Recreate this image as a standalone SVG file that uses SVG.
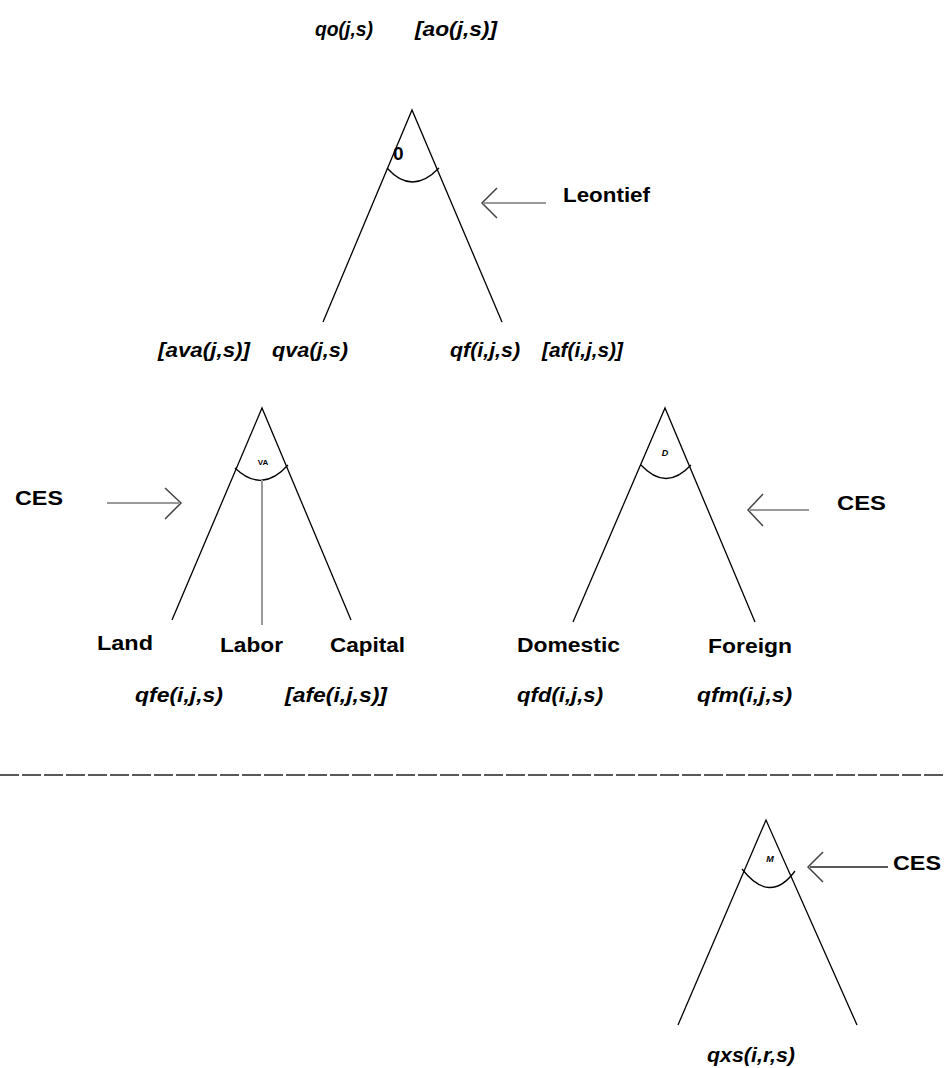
<svg xmlns="http://www.w3.org/2000/svg" width="946" height="1068" viewBox="0 0 946 1068">
<style>
.t{font-family:"Liberation Sans",Arial,sans-serif;font-weight:bold;font-size:20px;fill:#000}
.i{font-style:italic}
.leg{stroke:#000;stroke-width:1.3;fill:none}
.shaft{stroke:#999;stroke-width:2.2;fill:none}
.head{stroke:#444;stroke-width:1.5;fill:none}
.small{font-family:"Liberation Sans",Arial,sans-serif;font-weight:bold;fill:#000}
</style>
<rect width="946" height="1068" fill="#fff"/>
<g id="labels-top">
<text class="t i" x="315" y="36" textLength="58" lengthAdjust="spacingAndGlyphs">qo(j,s)</text>
<text class="t i" x="415" y="36" textLength="82" lengthAdjust="spacingAndGlyphs">[ao(j,s)]</text>
</g>
<g id="node-top">
<path class="leg" d="M323,322 L412,110 L502,322"/>
<path class="leg" d="M387,168 Q412,196 439,168"/>
<text class="small" x="393" y="160" font-size="19">0</text>
</g>
<g id="node-leontief">
<text class="t" x="563" y="202" textLength="87" lengthAdjust="spacingAndGlyphs">Leontief</text>
</g>
<g id="row2-labels">
<text class="t i" x="158" y="357" textLength="92" lengthAdjust="spacingAndGlyphs">[ava(j,s)]</text>
<text class="t i" x="272" y="357" textLength="76" lengthAdjust="spacingAndGlyphs">qva(j,s)</text>
<text class="t i" x="450" y="357" textLength="70" lengthAdjust="spacingAndGlyphs">qf(i,j,s)</text>
<text class="t i" x="542" y="357" textLength="81" lengthAdjust="spacingAndGlyphs">[af(i,j,s)]</text>
</g>
<g id="node-va">
<path class="leg" d="M172,620 L262,408 L351,620"/>
<path class="leg" d="M235,468 Q262,494 288,465"/>
<line x1="262" y1="480" x2="262" y2="625" stroke="#999" stroke-width="2"/>
<text class="small" x="263" y="465" font-size="8" text-anchor="middle">VA</text>
</g>
<g id="node-ces-left">
<text class="t" x="15" y="505" textLength="48" lengthAdjust="spacingAndGlyphs">CES</text>
</g>
<g id="node-d">
<path class="leg" d="M573,622 L665,408 L755,622"/>
<path class="leg" d="M641,465 Q666,492 691,465"/>
<text class="small i" x="665" y="456" font-size="9" text-anchor="middle">D</text>
</g>
<g id="node-ces-right">
<text class="t" x="837" y="510" textLength="49" lengthAdjust="spacingAndGlyphs">CES</text>
</g>
<g id="row3-labels">
<text class="t" x="97" y="650" textLength="56" lengthAdjust="spacingAndGlyphs">Land</text>
<text class="t" x="220" y="652" textLength="63" lengthAdjust="spacingAndGlyphs">Labor</text>
<text class="t" x="330" y="652" textLength="75" lengthAdjust="spacingAndGlyphs">Capital</text>
<text class="t" x="517" y="652" textLength="103" lengthAdjust="spacingAndGlyphs">Domestic</text>
<text class="t" x="708" y="653" textLength="84" lengthAdjust="spacingAndGlyphs">Foreign</text>
<text class="t i" x="135" y="702" textLength="88" lengthAdjust="spacingAndGlyphs">qfe(i,j,s)</text>
<text class="t i" x="285" y="702" textLength="102" lengthAdjust="spacingAndGlyphs">[afe(i,j,s)]</text>
<text class="t i" x="517" y="702" textLength="86" lengthAdjust="spacingAndGlyphs">qfd(i,j,s)</text>
<text class="t i" x="697" y="702" textLength="95" lengthAdjust="spacingAndGlyphs">qfm(i,j,s)</text>
</g>
<line x1="0" y1="775" x2="946" y2="775" stroke="#222" stroke-width="1.3" stroke-dasharray="19 3"/>
<g id="node-m">
<path class="leg" d="M678,1025 L766,820 L857,1025"/>
<path class="leg" d="M742,869 Q770,905 795,871"/>
<text class="small i" x="770" y="862" font-size="9" text-anchor="middle">M</text>
</g>
<g id="node-ces-m">
<text class="t" x="893" y="870" textLength="48" lengthAdjust="spacingAndGlyphs">CES</text>
</g>
<g id="bottom-label">
<text class="t i" x="707" y="1062" textLength="88" lengthAdjust="spacingAndGlyphs">qxs(i,r,s)</text>
</g>
<g id="connectors">
<line class="shaft" x1="546" y1="203" x2="484" y2="203"/>
<path class="head" d="M497,188 L482,203 L497,218"/>
<line class="shaft" x1="107" y1="503" x2="179" y2="503"/>
<path class="head" d="M165,488 L181,503 L165,519"/>
<line class="shaft" x1="809" y1="510" x2="750" y2="510"/>
<path class="head" d="M763,494 L748,510 L763,526"/>
<line x1="888" y1="867" x2="810" y2="867" stroke="#222" stroke-width="1.5"/>
<path class="head" d="M823,852 L808,867 L823,882" stroke="#222"/>
</g>
</svg>
